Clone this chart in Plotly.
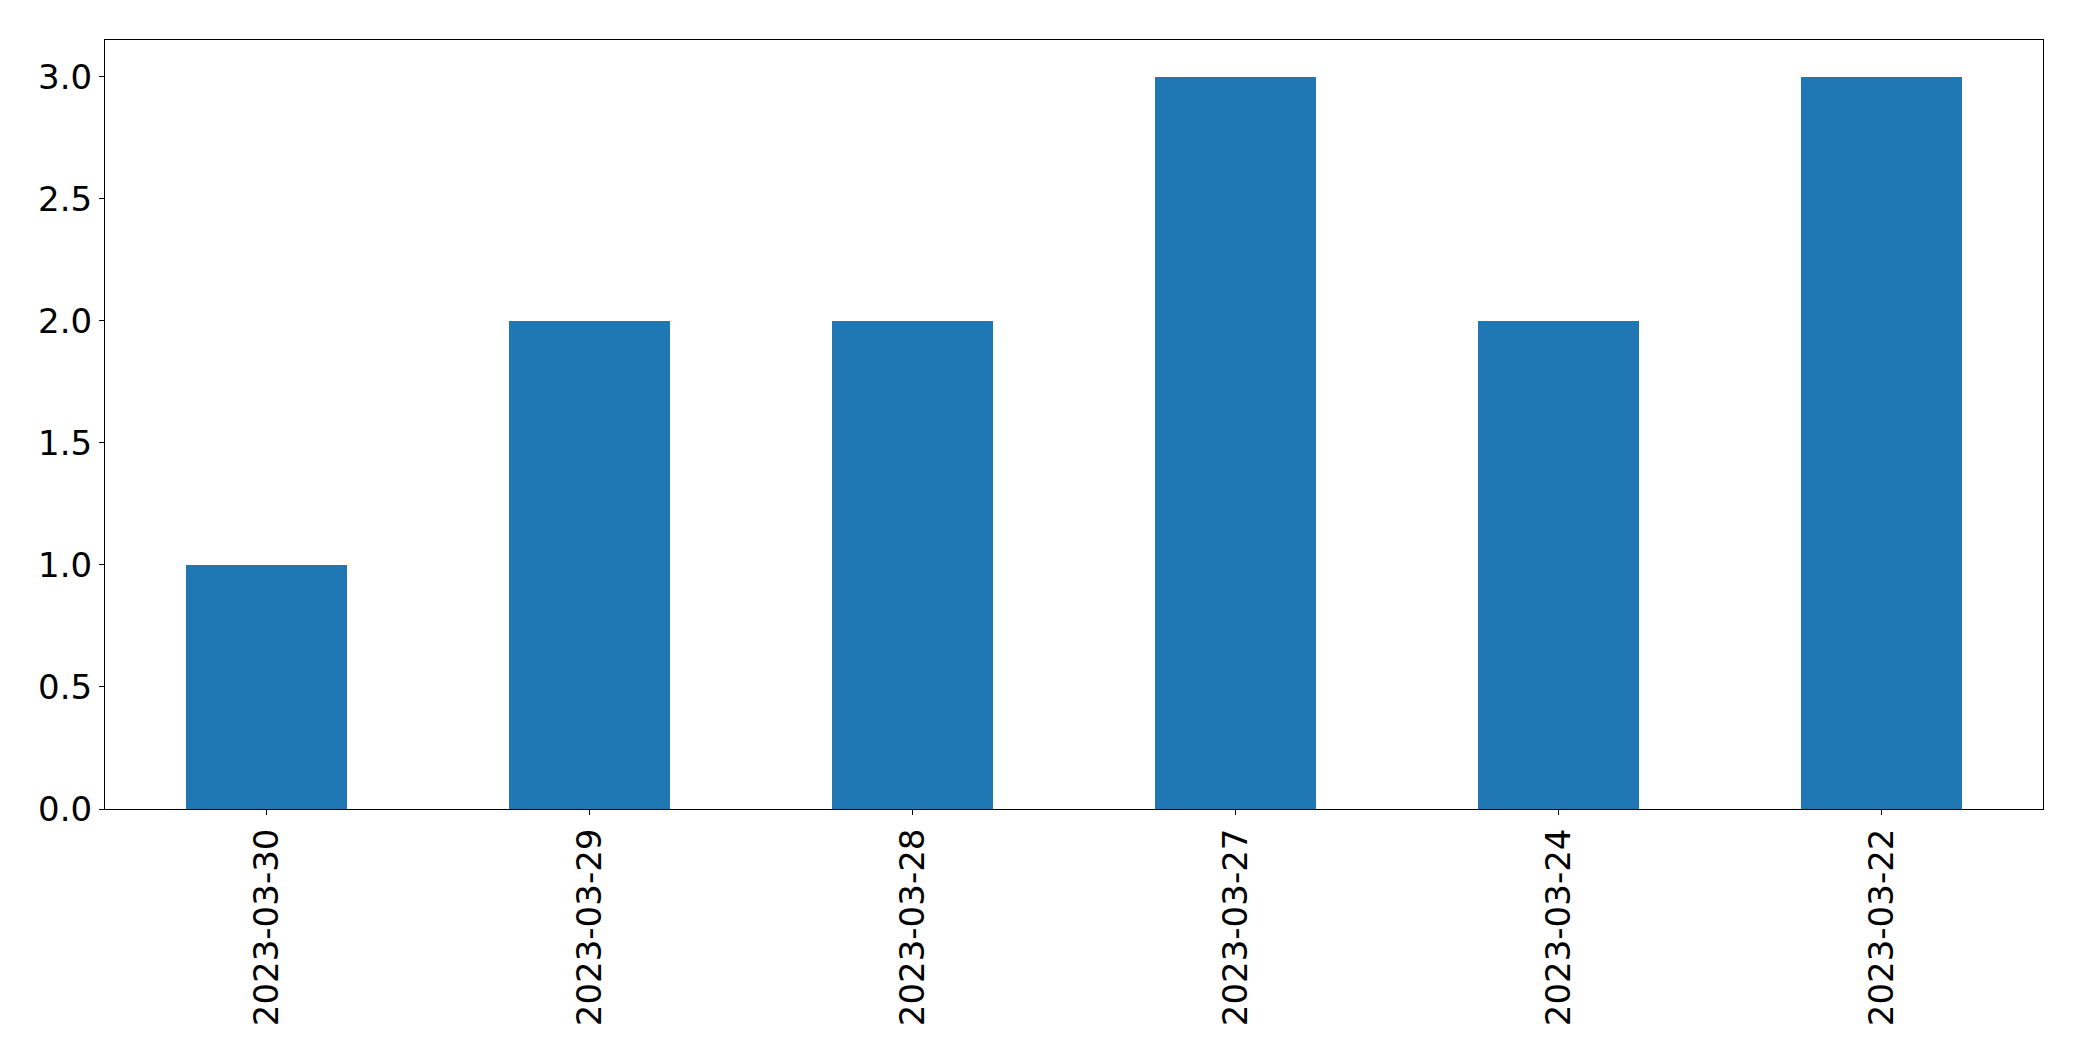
import plotly.graph_objects as go

dates = ["2023-03-30", "2023-03-29", "2023-03-28", "2023-03-27", "2023-03-24", "2023-03-22"]
counts = [1, 2, 2, 3, 2, 3]
y_ticks = [0.0, 0.5, 1.0, 1.5, 2.0, 2.5, 3.0]

fig = go.Figure(go.Bar(x=dates, y=counts, width=0.5, marker=dict(color="#1f77b4", line=dict(width=0))))

font = dict(family="DejaVu Sans", size=34, color="black")
fig.update_layout(
    width=2082, height=1061,
    margin=dict(l=97, r=47, t=32, b=260),
    paper_bgcolor="white", plot_bgcolor="white",
    font=font, showlegend=False, bargap=0,
)
fig.update_xaxes(
    type="category", range=[-0.5, 5.5], tickangle=-90,
    showline=True, mirror=True, linecolor="black", linewidth=1,
    ticks="outside", ticklen=5, tickcolor="black", tickwidth=1,
    showgrid=False, zeroline=False, tickfont=font,
)
fig.update_yaxes(
    range=[0, 3.15], tickvals=y_ticks, ticktext=[f"{v:.1f}" for v in y_ticks],
    showline=True, mirror=True, linecolor="black", linewidth=1,
    ticks="outside", ticklen=5, tickcolor="black", tickwidth=1,
    showgrid=False, zeroline=False, tickfont=font,
)
fig.write_html("out.html", config={"displayModeBar": False})
